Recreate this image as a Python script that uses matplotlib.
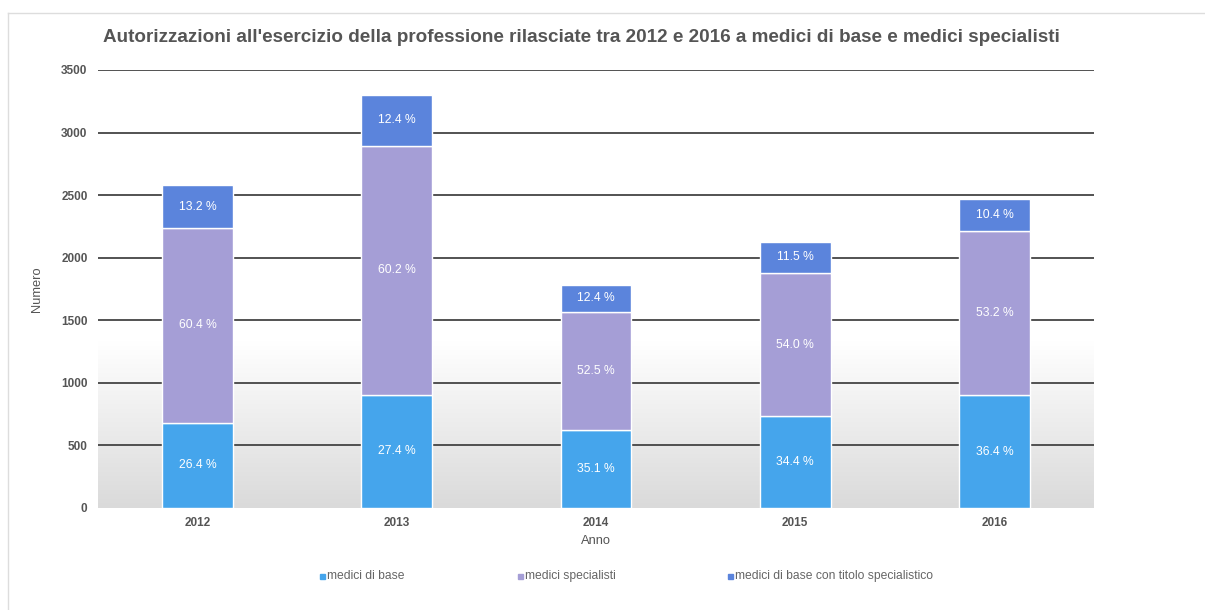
import numpy as np
import matplotlib
matplotlib.use("Agg")
import matplotlib.pyplot as plt
from matplotlib.patches import Rectangle
from matplotlib.lines import Line2D
from matplotlib.colors import LinearSegmentedColormap

plt.rcParams['font.family'] = ['Liberation Sans', 'DejaVu Sans']

years = ["2012", "2013", "2014", "2015", "2016"]
medici_base = [681, 905, 627, 732, 900]
medici_specialisti = [1557, 1988, 937, 1149, 1315]
medici_base_titolo = [340, 410, 221, 245, 257]
series_names = ["medici di base", "medici specialisti", "medici di base con titolo specialistico"]
colors = ["#45a5ec", "#a59ed6", "#5b84dc"]
yticks = [0, 500, 1000, 1500, 2000, 2500, 3000, 3500]
title = "Autorizzazioni all'esercizio della professione rilasciate tra 2012 e 2016 a medici di base e medici specialisti"

W, H = 1205, 610
fig = plt.figure(figsize=(W / 100, H / 100), dpi=100)
ax = fig.add_axes([98 / W, 1 - 508 / H, (1094 - 98) / W, (508 - 70) / H])

x = np.arange(len(years))
series = [np.array(medici_base), np.array(medici_specialisti), np.array(medici_base_titolo)]
totals = sum(series)

# background gradient in lower part
grad = np.linspace(0, 1, 256).reshape(-1, 1)
cmap = LinearSegmentedColormap.from_list("g", ["#dadada", "#ffffff"])
ax.imshow(grad, aspect="auto", cmap=cmap, origin="lower",
          extent=[-0.5, len(years) - 0.5, 0, 1330], zorder=0)

for yv in yticks[1:]:
    ax.axhline(yv, color="#444444", lw=1.3, zorder=1)

bottom = np.zeros(len(years))
for vals, col in zip(series, colors):
    ax.bar(x, vals, width=0.355, bottom=bottom, color=col,
           edgecolor="white", linewidth=1.0, zorder=2)
    for xi, b, v, t in zip(x, bottom, vals, totals):
        ax.text(xi, b + v / 2, f"{100 * v / t:.1f} %", ha="center", va="center",
                color="white", fontsize=8.7, zorder=3)
    bottom = bottom + vals

ax.set_xlim(-0.5, len(years) - 0.5)
ax.set_ylim(0, 3500)
ax.set_xticks(x)
ax.set_xticklabels(years, fontsize=8.5, fontweight="bold", color="#555555")
ax.set_yticks(yticks)
ax.set_yticklabels([str(v) for v in yticks], fontsize=8.5, fontweight="bold", color="#555555")
ax.tick_params(axis="x", length=0, pad=6.5)
ax.tick_params(axis="y", length=0, pad=7.5)
for s in ax.spines.values():
    s.set_visible(False)
ax.set_facecolor("white")

fig.text(37 / W, 1 - 289 / H, "Numero", rotation=90, ha="center", va="center",
         fontsize=9.3, color="#555555")
fig.text(596 / W, 1 - 541 / H, "Anno", ha="center", va="center",
         fontsize=9.3, color="#555555")
fig.text(581 / W, 1 - 37 / H, title, ha="center", va="center",
         fontsize=13.55, fontweight="bold", color="#555555")

# legend
leg_x = [320, 518, 728]
for lx, name, col in zip(leg_x, series_names, colors):
    fig.patches.append(Rectangle((lx / W, 1 - 579 / H), 5 / W, 5 / H,
                                 transform=fig.transFigure, color=col))
    fig.text((lx + 7) / W, 1 - 576 / H, name, ha="left", va="center",
             fontsize=8.7, color="#666666")

# outer border
fig.lines.append(Line2D([8 / W, 8 / W], [0, 1 - 13 / H], transform=fig.transFigure,
                        color="#dddddd", lw=1))
fig.lines.append(Line2D([8 / W, 1], [1 - 13 / H, 1 - 13 / H], transform=fig.transFigure,
                        color="#dddddd", lw=1))

fig.savefig("out.png", dpi=100)
